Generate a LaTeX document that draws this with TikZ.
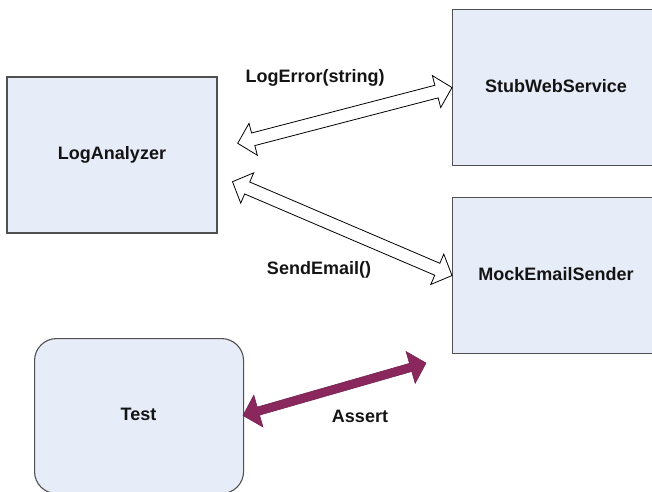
\documentclass[tikz,border=0pt]{standalone}
\usepackage{fontspec}
\setmainfont{Liberation Sans}
\usetikzlibrary{calc}
\definecolor{boxfill}{RGB}{231,237,248}
\definecolor{boxline}{RGB}{80,80,80}
\definecolor{assertc}{RGB}{138,40,94}
\definecolor{txt}{RGB}{20,20,20}
\tikzset{
  box/.style={draw=boxline, fill=boxfill, line width=1.1pt, inner sep=0pt,
    font=\fontsize{18}{20}\selectfont\bfseries, text=txt},
  lbl/.style={font=\fontsize{18}{20}\selectfont\bfseries, text=txt, inner sep=0pt},
  hollow/.style={draw=black, fill=white, line width=0.8pt, line join=miter},
  solidarr/.style={draw=assertc!85!black, fill=assertc, line width=0.6pt, line join=miter}
}
% #1 style, #2 tail tip, #3 head tip, #4 head length, #5 head half width, #6 shaft half width
\newcommand{\dblarrow}[6]{%
  \draw[#1] (#2)
    -- ($(#2)!#4!(#3)!#5!90:(#3)$)
    -- ($(#2)!#4!(#3)!#6!90:(#3)$)
    -- ($(#3)!#4!(#2)!#6!-90:(#2)$)
    -- ($(#3)!#4!(#2)!#5!-90:(#2)$)
    -- (#3)
    -- ($(#3)!#4!(#2)!#5!90:(#2)$)
    -- ($(#3)!#4!(#2)!#6!90:(#2)$)
    -- ($(#2)!#4!(#3)!#6!-90:(#3)$)
    -- ($(#2)!#4!(#3)!#5!-90:(#3)$)
    -- cycle;}
\begin{document}
\begin{tikzpicture}[x=1pt,y=-1pt]
\useasboundingbox (0,0) rectangle (652,491);
\node[box, minimum width=210pt, minimum height=156pt] (la) at (112,155) {LogAnalyzer};
\node[box, minimum width=209pt, minimum height=156pt, anchor=north west] (stub) at (452,9) {};
\node[lbl] (stubt) at (556,86) {StubWebService};
\node[box, minimum width=209pt, minimum height=156pt, anchor=north west] (mock) at (452,197) {};
\node[lbl] (mockt) at (556,274) {MockEmailSender};
\node[box, rounded corners=22pt, minimum width=209pt, minimum height=155pt, anchor=north west] (test) at (34,338) {};
\node[lbl] (testt) at (138.5,414) {Test};
\node[lbl] (l1) at (315,78) {LogError(string)};
\node[lbl] (l2) at (319,270) {SendEmail()};
\node[lbl] (l3) at (360,416) {Assert};
\coordinate (t1) at (237.7,143.3);
\coordinate (t2) at (232.5,181.7);
\coordinate (t3) at (426,363);
\coordinate (t4) at (243,415.5);
\dblarrow{hollow}{t1}{stub.west}{16pt}{16.5pt}{6.5pt}
\dblarrow{hollow}{t2}{mock.west}{16pt}{16.5pt}{6.5pt}
\dblarrow{solidarr}{t4}{t3}{16pt}{16.5pt}{4.2pt}
\end{tikzpicture}
\end{document}
